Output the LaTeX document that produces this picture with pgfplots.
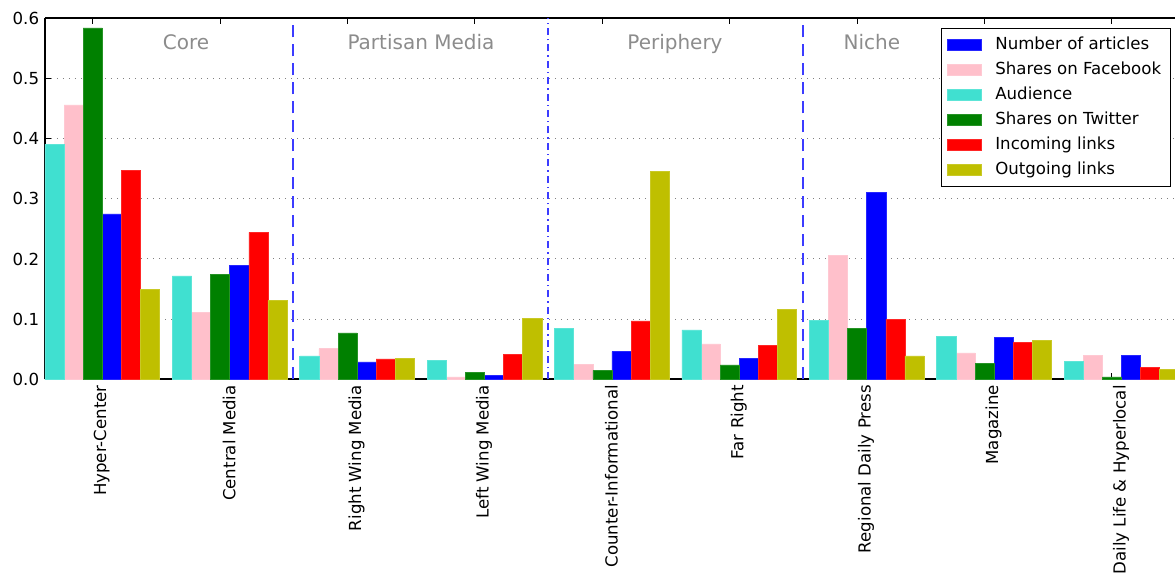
\documentclass[border=0pt]{standalone}
\usepackage{fontspec}
\setmainfont{DejaVu Sans}
\usepackage{pgfplots}
\usepackage{pgfplotstable}
\pgfplotsset{compat=1.18}

\definecolor{cAud}{RGB}{64,224,208}
\definecolor{cFb}{RGB}{255,192,203}
\definecolor{cTw}{RGB}{0,128,0}
\definecolor{cArt}{RGB}{0,0,255}
\definecolor{cInc}{RGB}{255,0,0}
\definecolor{cOut}{RGB}{191,191,0}
\definecolor{sepblue}{RGB}{60,60,255}
\definecolor{grp}{RGB}{140,140,140}

% group index, then one column per measure
\pgfplotstableread{
idx aud fb tw art inc out
0 0.391 0.456 0.584 0.275 0.347 0.149
1 0.172 0.111 0.175 0.189 0.244 0.131
2 0.039 0.051 0.077 0.029 0.034 0.035
3 0.032 0.004 0.012 0.006 0.042 0.101
4 0.084 0.025 0.015 0.046 0.097 0.346
5 0.082 0.059 0.024 0.035 0.056 0.116
6 0.098 0.206 0.084 0.311 0.100 0.039
7 0.071 0.044 0.027 0.070 0.061 0.065
8 0.030 0.040 0.004 0.040 0.020 0.017
}\data

\pgfplotsset{
  mybar/.style={ybar, bar width=0.15, bar shift=0pt, draw=#1!85!white, line width=0.3pt, fill=#1},
}

\begin{document}
\fontsize{8.3}{10}\selectfont
\begin{tikzpicture}
\begin{axis}[
    scale only axis,
    width=573.3pt, height=180.5pt,
    xmin=0, xmax=9,
    ymin=0, ymax=0.6,
    axis x line=box,
    axis y line*=left,
    axis line style={-, line width=0.9pt},
    xtick={0.375,1.375,2.375,3.375,4.375,5.375,6.375,7.375,8.375},
    xticklabels={Hyper-Center,Central Media,Right Wing Media,Left Wing Media,Counter-Informational,Far Right,Regional Daily Press,Magazine,Daily Life \& Hyperlocal},
    xticklabel style={rotate=90, anchor=east, yshift=-4.5pt},
    ytick={0,0.1,0.2,0.3,0.4,0.5,0.6},
    yticklabel style={/pgf/number format/.cd, fixed, fixed zerofill, precision=1},
    /pgf/number format/assume math mode=true,
    tick align=inside,
    xtick pos=both,
    major tick length=3pt,
    tick style={black, line width=0.5pt},
    ymajorgrids=true,
    grid style={gray, line width=0.5pt, dash pattern=on 0.5pt off 2.5pt},
    legend cell align=left,
    legend style={at={(0.9818,0.9743)}, anchor=north east, draw=black, line width=0.6pt,
        font=\fontsize{8.3}{10}\selectfont, row sep=0.95pt, inner sep=2.5pt,
        /tikz/every odd column/.append style={column sep=5pt}},
    legend image code/.code={\fill[#1] (0pt,-2.75pt) rectangle (17pt,2.75pt);},
]
\addplot[mybar=cArt] table[x expr=\thisrow{idx}+0.525, y=art] {\data};
\addlegendentry{Number of articles}
\addplot[mybar=cFb] table[x expr=\thisrow{idx}+0.225, y=fb] {\data};
\addlegendentry{Shares on Facebook}
\addplot[mybar=cAud] table[x expr=\thisrow{idx}+0.075, y=aud] {\data};
\addlegendentry{Audience}
\addplot[mybar=cTw] table[x expr=\thisrow{idx}+0.375, y=tw] {\data};
\addlegendentry{Shares on Twitter}
\addplot[mybar=cInc] table[x expr=\thisrow{idx}+0.675, y=inc] {\data};
\addlegendentry{Incoming links}
\addplot[mybar=cOut] table[x expr=\thisrow{idx}+0.825, y=out] {\data};
\addlegendentry{Outgoing links}

\coordinate (O) at (rel axis cs:0,0);
\draw[color=sepblue, line width=1pt, dash pattern=on 6pt off 3.5pt] (axis cs:1.95,0) -- (axis cs:1.95,0.6);
\draw[color=sepblue, line width=1pt, dash pattern=on 3.5pt off 2pt on 0.7pt off 2pt] (axis cs:3.95,0) -- (axis cs:3.95,0.6);
\draw[color=sepblue, line width=1pt, dash pattern=on 6pt off 3.5pt] (axis cs:5.95,0) -- (axis cs:5.95,0.6);

\node[grp, anchor=base, font=\fontsize{10}{12}\selectfont] at (axis cs:1.107,0.5485) {Core};
\node[grp, anchor=base, font=\fontsize{10}{12}\selectfont] at (axis cs:2.951,0.5485) {Partisan Media};
\node[grp, anchor=base, font=\fontsize{10}{12}\selectfont] at (axis cs:4.945,0.5485) {Periphery};
\node[grp, anchor=base, font=\fontsize{10}{12}\selectfont] at (axis cs:6.490,0.5485) {Niche};
\end{axis}
\pgfresetboundingbox
\path[use as bounding box] ([shift={(-22.5pt,-97.35pt)}]O) rectangle ([shift={(565pt,189.65pt)}]O);
\end{tikzpicture}
\end{document}
